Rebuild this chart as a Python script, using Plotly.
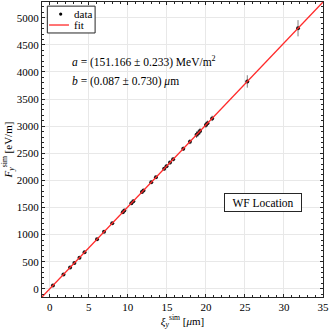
import plotly.graph_objects as go

# data
xi_sim = [0.40, 1.75, 2.60, 3.15, 3.80, 4.45, 6.05, 6.95, 8.00, 9.35, 9.55,
          10.45, 10.70, 11.80, 12.00, 13.00, 13.60, 14.65, 14.95, 15.40, 15.80,
          17.10, 17.95, 18.80, 19.00, 19.25, 20.00, 20.20, 20.80, 25.30, 31.80]
F_sim = [60, 265, 393, 476, 574, 673, 915, 1051, 1209, 1413, 1444,
         1580, 1617, 1784, 1814, 1965, 2056, 2215, 2260, 2328, 2388,
         2585, 2713, 2842, 2872, 2910, 3023, 3054, 3144, 3825, 4807]
F_err = [12, 12, 14, 14, 15, 15, 18, 18, 20, 22, 22,
         25, 25, 28, 28, 30, 30, 32, 32, 35, 35,
         40, 45, 60, 60, 60, 55, 50, 50, 115, 150]

fit_x = [-1, 35]
fit_y = [-151, 5291]

FONT = "Liberation Serif"

fig = go.Figure()
fig.add_trace(go.Scatter(x=xi_sim, y=F_sim, mode="markers", name="data",
                         marker=dict(color="#1a1a1a", size=4),
                         error_y=dict(type="data", array=F_err, color="#808080",
                                      thickness=1, width=0)))
fig.add_trace(go.Scatter(x=fit_x, y=fit_y, mode="lines", name="fit",
                         line=dict(color="#ff2a2a", width=1.3)))

axis_common = dict(showline=True, linecolor="#262626", linewidth=1, mirror="allticks",
                   ticks="inside", ticklen=3, tickcolor="#262626", automargin=False,
                   showgrid=True, gridcolor="#e8e8e8", gridwidth=1, zeroline=False,
                   tickfont=dict(family=FONT, size=11, color="black"))

fig.update_xaxes(range=[-1, 35], dtick=5, tick0=0,
                 minor=dict(ticks="inside", ticklen=2, dtick=1, tickcolor="#262626", showgrid=False),
                 title=dict(text="<i>ξ</i><sub><i>y</i></sub><sup>sim</sup> [<i>μ</i>m]",
                            font=dict(family=FONT, size=11, color="black"), standoff=2),
                 **axis_common)
fig.update_yaxes(range=[-151, 5291], dtick=500, tick0=0,
                 minor=dict(ticks="inside", ticklen=2, dtick=100, tickcolor="#262626", showgrid=False),
                 title=dict(text="<i>F</i><sub><i>y</i></sub><sup>sim</sup> [eV/m]",
                            font=dict(family=FONT, size=11, color="black"), standoff=2),
                 **axis_common)

# legend box drawn by hand to match the compact reference legend
fig.add_shape(type="rect", xref="paper", yref="paper", x0=0.019, x1=0.189, y0=0.895, y1=0.986,
              line=dict(color="#262626", width=1), fillcolor="white", layer="above")
fig.add_shape(type="circle", xref="paper", yref="paper", xsizemode="pixel", ysizemode="pixel",
              xanchor=0.0665, yanchor=0.959, x0=-1.6, x1=1.6, y0=-1.6, y1=1.6,
              fillcolor="black", line=dict(width=0), layer="above")
fig.add_shape(type="line", xref="paper", yref="paper", x0=0.025, x1=0.096, y0=0.922, y1=0.922,
              line=dict(color="#ff2a2a", width=1.3), layer="above")
fig.add_annotation(xref="paper", yref="paper", x=0.1057, y=0.959, xanchor="left", yanchor="middle",
                   text="data", showarrow=False, font=dict(family=FONT, size=11, color="black"))
fig.add_annotation(xref="paper", yref="paper", x=0.1057, y=0.922, xanchor="left", yanchor="middle",
                   text="fit", showarrow=False, font=dict(family=FONT, size=11, color="black"))

# fit parameters
fig.add_annotation(xref="paper", yref="paper", x=0.0996, y=0.797, xanchor="left", yanchor="middle",
                   text="<i>a</i> = (151.166 ± 0.233) MeV/m<sup>2</sup>", showarrow=False,
                   font=dict(family=FONT, size=11.5, color="black"))
fig.add_annotation(xref="paper", yref="paper", x=0.0996, y=0.732, xanchor="left", yanchor="middle",
                   text="<i>b</i> = (0.087 ± 0.730) <i>μ</i>m", showarrow=False,
                   font=dict(family=FONT, size=11.5, color="black"))

fig.add_annotation(xref="paper", yref="paper", x=0.7865, y=0.322, xanchor="center", yanchor="middle",
                   text="WF Location", showarrow=False, width=74, height=15, borderpad=1,
                   bordercolor="#262626", borderwidth=1, bgcolor="white",
                   font=dict(family=FONT, size=11.5, color="black"))

fig.update_layout(width=329, height=330, showlegend=False,
                  margin=dict(l=42, r=6, t=2, b=33),
                  plot_bgcolor="white", paper_bgcolor="white")

# drop the default body margin so the 329x330 figure fills the window exactly
fig.write_html("out.html", config={"staticPlot": True},
               post_script="document.body.style.margin='0';document.body.style.overflow='hidden';")
